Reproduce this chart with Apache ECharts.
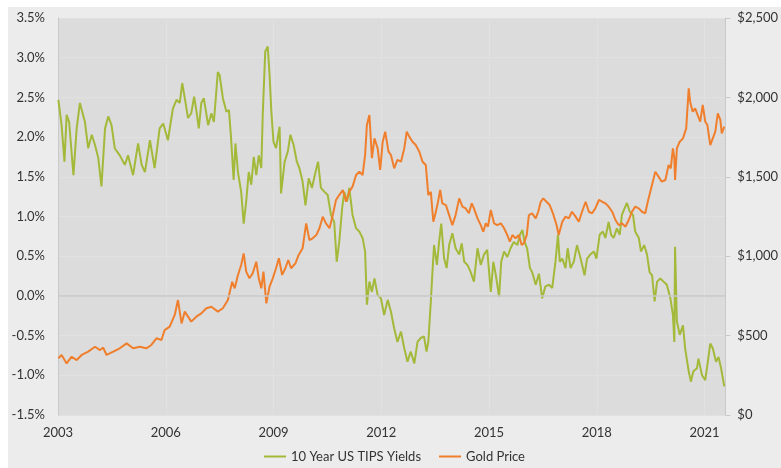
<!DOCTYPE html>
<html>
<head>
<meta charset="utf-8">
<script src="https://cdn.jsdelivr.net/npm/echarts@6/dist/echarts.min.js"></script>
<style>
  html, body { margin: 0; padding: 0; background: #ffffff; }
  #chart { position: absolute; left: 8px; top: 7px; width: 773px; height: 461px; background: #ececec; }
</style>
</head>
<body>
<div id="chart"></div>
<script>
// dates as decimal years
const tipsDates = [
  2003.01, 2003.10, 2003.18, 2003.24, 2003.31, 2003.43, 2003.52, 2003.61, 2003.75, 2003.84, 2003.94,
  2004.03, 2004.12, 2004.21, 2004.31, 2004.40, 2004.49, 2004.58, 2004.72, 2004.86, 2004.95,
  2005.09, 2005.23, 2005.33, 2005.42, 2005.56, 2005.69, 2005.83, 2005.93,
  2006.06, 2006.20, 2006.30, 2006.39, 2006.46, 2006.53, 2006.62, 2006.71, 2006.79, 2006.85, 2006.92, 2006.99,
  2007.06, 2007.18, 2007.27, 2007.34, 2007.45, 2007.50, 2007.59, 2007.69, 2007.76, 2007.82, 2007.89, 2007.94,
  2008.01, 2008.10, 2008.17, 2008.24, 2008.31, 2008.38, 2008.45, 2008.52, 2008.59, 2008.66, 2008.70, 2008.77, 2008.84, 2008.89, 2008.94,
  2009.00, 2009.07, 2009.17, 2009.21, 2009.31, 2009.40, 2009.47, 2009.56, 2009.65, 2009.72, 2009.81, 2009.89, 2009.98,
  2010.07, 2010.17, 2010.24, 2010.32, 2010.42, 2010.51, 2010.60, 2010.69, 2010.76, 2010.83, 2010.91, 2010.97,
  2011.05, 2011.11, 2011.20, 2011.30, 2011.39, 2011.48, 2011.55, 2011.60, 2011.67, 2011.74, 2011.81, 2011.90, 2011.99,
  2012.08, 2012.18, 2012.27, 2012.36, 2012.45, 2012.55, 2012.64, 2012.73, 2012.82, 2012.92,
  2013.01, 2013.10, 2013.19, 2013.26, 2013.31, 2013.38, 2013.42, 2013.47, 2013.55, 2013.61, 2013.67, 2013.75, 2013.82, 2013.89, 2013.98,
  2014.07, 2014.17, 2014.24, 2014.31, 2014.40, 2014.49, 2014.58, 2014.68, 2014.77, 2014.86, 2014.95,
  2015.05, 2015.12, 2015.19, 2015.28, 2015.34, 2015.42, 2015.51, 2015.60, 2015.69, 2015.79, 2015.86, 2015.93, 2015.99,
  2016.06, 2016.14, 2016.20, 2016.30, 2016.39, 2016.48, 2016.57, 2016.67, 2016.76, 2016.85, 2016.92, 2016.97,
  2017.04, 2017.13, 2017.19, 2017.27, 2017.36, 2017.45, 2017.55, 2017.66, 2017.73, 2017.82, 2017.92, 2017.99,
  2018.08, 2018.17, 2018.24, 2018.33, 2018.40, 2018.47, 2018.56, 2018.64, 2018.70, 2018.77, 2018.84, 2018.92,
  2019.01, 2019.07, 2019.17, 2019.23, 2019.32, 2019.40, 2019.47, 2019.54, 2019.61, 2019.68, 2019.77, 2019.86, 2019.95,
  2020.05, 2020.12, 2020.16, 2020.18, 2020.23, 2020.31, 2020.40, 2020.46, 2020.56, 2020.62, 2020.69, 2020.79, 2020.83, 2020.93,
  2021.02, 2021.08, 2021.16, 2021.23, 2021.32, 2021.39, 2021.46, 2021.55
]
const tipsYields = [
  2.47, 2.15, 1.69, 2.28, 2.19, 1.52, 2.11, 2.43, 2.19, 1.86, 2.03,
  1.90, 1.74, 1.38, 2.11, 2.26, 2.15, 1.86, 1.77, 1.65, 1.77,
  1.52, 1.92, 1.65, 1.56, 1.96, 1.61, 2.11, 2.17,
  1.96, 2.36, 2.47, 2.43, 2.68, 2.49, 2.24, 2.30, 2.51, 2.34, 2.11, 2.43,
  2.49, 2.15, 2.30, 2.19, 2.82, 2.78, 2.49, 2.32, 2.34, 1.98, 1.46, 1.92,
  1.56, 1.31, 0.91, 1.19, 1.56, 1.40, 1.75, 1.52, 1.77, 1.61, 2.28, 3.08, 3.14, 2.78, 2.32,
  1.94, 1.86, 2.13, 1.29, 1.69, 1.82, 2.03, 1.90, 1.69, 1.61, 1.44, 1.14, 1.48,
  1.36, 1.56, 1.69, 1.36, 1.31, 1.27, 1.02, 0.93, 0.43, 0.68, 1.10, 1.31,
  1.19, 1.36, 1.02, 0.85, 0.81, 0.73, 0.56, -0.11, 0.18, 0.05, 0.22, 0.01, -0.03,
  -0.24, -0.05, -0.20, -0.41, -0.58, -0.45, -0.66, -0.83, -0.70, -0.85,
  -0.58, -0.53, -0.51, -0.70, -0.58, -0.07, 0.26, 0.64, 0.39, 0.68, 0.91, 0.47, 0.35, 0.64, 0.79,
  0.60, 0.52, 0.66, 0.43, 0.39, 0.30, 0.18, 0.60, 0.39, 0.52, 0.58,
  0.05, 0.43, 0.26, -0.01, 0.43, 0.56, 0.49, 0.60, 0.68, 0.64, 0.77, 0.83, 0.68,
  0.60, 0.35, 0.30, 0.14, 0.28, -0.03, 0.12, 0.14, 0.10, 0.43, 0.77, 0.43,
  0.47, 0.35, 0.60, 0.35, 0.43, 0.64, 0.47, 0.26, 0.47, 0.52, 0.56, 0.47,
  0.77, 0.81, 0.73, 0.93, 0.77, 0.73, 0.85, 0.77, 1.02, 1.10, 1.17, 1.06,
  1.02, 0.81, 0.73, 0.56, 0.64, 0.52, 0.30, 0.26, -0.07, 0.18, 0.22, 0.18, 0.14,
  -0.03, -0.24, -0.58, 0.62, -0.32, -0.49, -0.37, -0.66, -0.95, -1.08, -0.95, -0.91, -0.79, -1.00,
  -1.06, -0.87, -0.60, -0.66, -0.83, -0.77, -0.91, -1.14
]

const goldDates = [
  2003.01, 2003.10, 2003.24, 2003.38, 2003.52, 2003.66, 2003.84,
  2004.03, 2004.17, 2004.26, 2004.35, 2004.54, 2004.72, 2004.91,
  2005.09, 2005.28, 2005.46, 2005.60, 2005.74, 2005.88, 2005.97,
  2006.11, 2006.25, 2006.34, 2006.44, 2006.53, 2006.71, 2006.85, 2006.99,
  2007.13, 2007.27, 2007.45, 2007.59, 2007.64, 2007.73, 2007.85, 2007.92,
  2008.01, 2008.10, 2008.17, 2008.24, 2008.33, 2008.42, 2008.52, 2008.59, 2008.66, 2008.72, 2008.80, 2008.89, 2008.98,
  2009.07, 2009.15, 2009.24, 2009.33, 2009.41, 2009.49, 2009.61, 2009.70, 2009.81, 2009.91,
  2010.00, 2010.09, 2010.19, 2010.28, 2010.37, 2010.46, 2010.56, 2010.65, 2010.74, 2010.83, 2010.93,
  2011.02, 2011.11, 2011.20, 2011.30, 2011.39, 2011.48, 2011.55, 2011.60, 2011.67, 2011.74, 2011.81, 2011.90, 2011.97,
  2012.04, 2012.11, 2012.20, 2012.27, 2012.36, 2012.45, 2012.55, 2012.64, 2012.71, 2012.78, 2012.87, 2012.96,
  2013.06, 2013.15, 2013.24, 2013.31, 2013.38, 2013.45, 2013.52, 2013.58, 2013.64, 2013.70, 2013.80, 2013.89, 2013.98,
  2014.07, 2014.17, 2014.26, 2014.35, 2014.44, 2014.52, 2014.58, 2014.68, 2014.77, 2014.84, 2014.91, 2014.97,
  2015.05, 2015.14, 2015.23, 2015.33, 2015.42, 2015.51, 2015.58, 2015.65, 2015.74, 2015.83, 2015.91, 2015.97,
  2016.05, 2016.11, 2016.20, 2016.30, 2016.37, 2016.44, 2016.51, 2016.60, 2016.69, 2016.78, 2016.88, 2016.94,
  2017.04, 2017.13, 2017.22, 2017.31, 2017.41, 2017.50, 2017.59, 2017.69, 2017.78, 2017.87, 2017.96,
  2018.06, 2018.15, 2018.24, 2018.33, 2018.43, 2018.52, 2018.61, 2018.70, 2018.80, 2018.89, 2018.98,
  2019.07, 2019.17, 2019.26, 2019.35, 2019.42, 2019.49, 2019.56, 2019.63, 2019.72, 2019.81, 2019.91,
  2020.00, 2020.06, 2020.12, 2020.16, 2020.18, 2020.23, 2020.31, 2020.40, 2020.49, 2020.56, 2020.60, 2020.67, 2020.74, 2020.81, 2020.88, 2020.95,
  2021.02, 2021.08, 2021.16, 2021.23, 2021.30, 2021.37, 2021.44, 2021.48, 2021.55
]
const goldPrices = [
  357, 378, 325, 367, 346, 378, 399,
  430, 409, 424, 378, 399, 420, 451,
  420, 430, 420, 441, 483, 472, 535,
  556, 630, 724, 577, 651, 588, 619, 640,
  672, 682, 651, 672, 661, 724, 839, 798,
  882, 945, 1018, 903, 861, 892, 965, 861, 798, 903, 703, 808, 861,
  924, 987, 882, 924, 976, 924, 955, 1008, 1050, 1207,
  1102, 1113, 1133, 1176, 1249, 1207, 1176, 1259, 1354, 1385, 1417,
  1343, 1406, 1438, 1511, 1532, 1511, 1637, 1826, 1889, 1617, 1742, 1679, 1543,
  1721, 1784, 1660, 1637, 1553, 1606, 1595, 1679, 1784, 1753, 1721, 1700,
  1658, 1595, 1574, 1385, 1406, 1217, 1280, 1343, 1417, 1333, 1322, 1259, 1196,
  1259, 1364, 1312, 1301, 1270, 1333, 1301, 1238, 1196, 1154, 1207, 1186,
  1291, 1207, 1196, 1207, 1176, 1133, 1091, 1133, 1113, 1133, 1070, 1081,
  1133, 1259, 1270, 1238, 1280, 1343, 1364, 1343, 1322, 1270, 1196, 1133,
  1217, 1249, 1238, 1280, 1249, 1217, 1280, 1343, 1280, 1270, 1301,
  1354, 1343, 1333, 1312, 1280, 1228, 1196, 1207, 1186, 1228, 1280,
  1312, 1301, 1280, 1270, 1343, 1406, 1469, 1532, 1501, 1469, 1480,
  1574, 1553, 1679, 1617, 1480, 1679, 1721, 1742, 1805, 2057, 1973, 1910, 1931, 1889, 1847, 1952,
  1847, 1826, 1700, 1742, 1784, 1900, 1858, 1774, 1816
]

const yearTicks = [2003, 2006, 2009, 2012, 2015, 2018, 2021]

const font = 'Lato, "Open Sans", sans-serif'

let myChart = echarts.init(document.getElementById('chart'))

let tipsData = []
tipsDates.forEach((d, i) => {
  tipsData.push([d, tipsYields[i]])
})
let goldData = []
goldDates.forEach((d, i) => {
  goldData.push([d, goldPrices[i]])
})

myChart.setOption({
  animation: false,
  textStyle: { fontFamily: font },
  grid: {
    left: 50,
    top: 11,
    right: 55,
    bottom: 53,
    show: true,
    backgroundColor: '#dcdcdc',
    borderWidth: 0
  },
  legend: {
    bottom: 0,
    left: 'center',
    icon: 'rect',
    itemWidth: 22,
    itemHeight: 2,
    itemGap: 18,
    textStyle: { fontFamily: font, fontSize: 13, color: '#333' },
    data: ['10 Year US TIPS Yields', 'Gold Price']
  },
  xAxis: {
    type: 'value',
    min: 2003,
    max: 2021.58,
    interval: 3,
    axisLine: { show: false },
    axisTick: { show: false },
    splitLine: { show: true, lineStyle: { color: '#e1e1e1', width: 1 } },
    axisLabel: {
      margin: 11,
      fontFamily: font,
      fontSize: 13,
      color: '#333',
      showMaxLabel: false,
      formatter: function (v) {
        return yearTicks.includes(Math.round(v)) && Math.abs(v - Math.round(v)) < 1e-6 ? String(Math.round(v)) : ''
      }
    }
  },
  yAxis: [
    {
      type: 'value',
      min: -1.5,
      max: 3.5,
      interval: 0.5,
      axisLine: { show: true, lineStyle: { color: '#c9c9c9' } },
      axisTick: { show: false },
      splitLine: { show: true, lineStyle: { color: '#e1e1e1', width: 1 } },
      axisLabel: {
        margin: 13,
        fontFamily: font,
        fontSize: 13,
        color: '#333',
        formatter: v => v.toFixed(1) + '%'
      }
    },
    {
      type: 'value',
      min: 0,
      max: 2500,
      interval: 500,
      position: 'right',
      axisLine: { show: true, lineStyle: { color: '#c9c9c9' } },
      axisTick: { show: true, length: 5, lineStyle: { color: '#c9c9c9' } },
      splitLine: { show: false },
      axisLabel: {
        margin: 12,
        fontFamily: font,
        fontSize: 13,
        color: '#333',
        formatter: v => '$' + v.toLocaleString('en-US')
      }
    }
  ],
  series: [
    {
      name: '10 Year US TIPS Yields',
      type: 'line',
      yAxisIndex: 0,
      showSymbol: false,
      symbol: 'none',
      color: '#a3b93a',
      lineStyle: { width: 2, color: '#a3b93a' },
      data: tipsData,
      markLine: {
        silent: true,
        symbol: 'none',
        label: { show: false },
        lineStyle: { color: '#c8c8c8', type: 'solid', width: 1.5 },
        data: [{ yAxis: 0 }]
      },
      z: 2
    },
    {
      name: 'Gold Price',
      type: 'line',
      yAxisIndex: 1,
      showSymbol: false,
      symbol: 'none',
      color: '#f07f2d',
      lineStyle: { width: 2, color: '#f07f2d' },
      data: goldData,
      z: 3
    }
  ]
})
</script>
</body>
</html>
